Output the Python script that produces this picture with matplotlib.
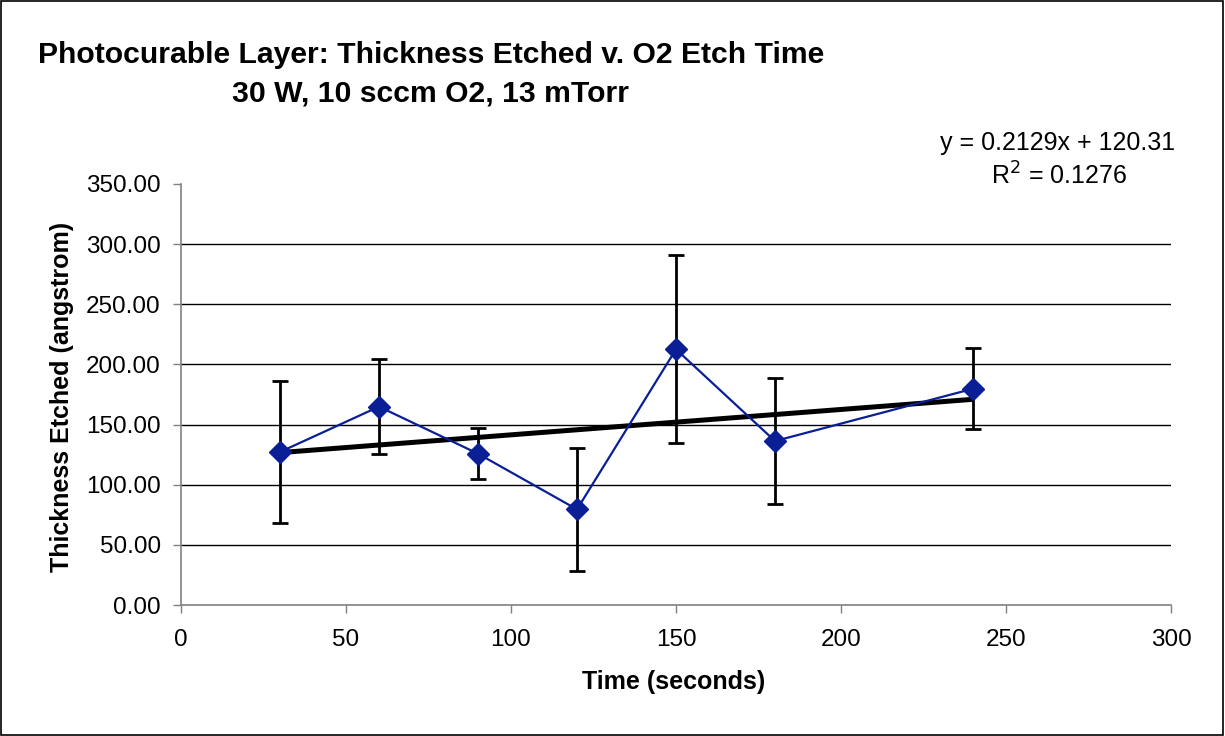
import numpy as np
import matplotlib
matplotlib.use("Agg")
import matplotlib.pyplot as plt
from matplotlib.patches import Rectangle

plt.rcParams['font.family'] = ['Liberation Sans', 'DejaVu Sans']

# Data
time_s = [30, 60, 90, 120, 150, 180, 240]
thickness = [127.2, 164.9, 125.8, 79.5, 212.6, 136.3, 179.8]
err = [59.0, 39.7, 21.3, 50.9, 78.2, 52.6, 33.7]
title_line1 = "Photocurable Layer: Thickness Etched v. O2 Etch Time"
title_line2 = "30 W, 10 sccm O2, 13 mTorr"
eq_text = "y = 0.2129x + 120.31"
r2_text = "R$^2$ = 0.1276"
yticks = [0, 50, 100, 150, 200, 250, 300, 350]
xticks = [0, 50, 100, 150, 200, 250, 300]

W, H = 1225, 736
fig = plt.figure(figsize=(W/100, H/100), dpi=100)
ax = fig.add_axes([181/W, 1-605/H, (1171-181)/W, (605-184)/H])

for y in yticks[1:-1]:
    ax.axhline(y, color='black', lw=1.0, zorder=1)

ax.errorbar(time_s, thickness, yerr=err, fmt='none', ecolor='black',
            elinewidth=2.0, capsize=5.5, capthick=2.0, zorder=2)

coef = np.polyfit(time_s, thickness, 1)
xs = np.array([min(time_s), max(time_s)])
ax.plot(xs, np.polyval(coef, xs), color='black', lw=3.6, zorder=3,
        solid_capstyle='butt')

ax.plot(time_s, thickness, color='#0A1E96', lw=1.6, marker='D',
        markersize=11, markerfacecolor='#0A1E96', markeredgecolor='#0A1E96', zorder=4)

ax.set_xlim(0, 300)
ax.set_ylim(0, 350)
ax.set_xticks(xticks)
ax.set_yticks(yticks)
ax.set_yticklabels([f"{v:.2f}" for v in yticks])
ax.tick_params(axis='both', direction='out', length=5.5, width=1, color='#808080',
               labelsize=17.5)
ax.tick_params(axis='y', pad=9)
ax.tick_params(axis='x', pad=12)
for s in ['top', 'right']:
    ax.spines[s].set_visible(False)
for s in ['left', 'bottom']:
    ax.spines[s].set_color('#808080')
    ax.spines[s].set_linewidth(1.2)

fig.text(674/W, 1-682/H, "Time (seconds)", ha='center', va='center',
         fontsize=18, fontweight='bold')
fig.text(62/W, 1-397/H, "Thickness Etched (angstrom)", ha='center', va='center',
         rotation=90, fontsize=18, fontweight='bold')

fig.text(431/W, 1-63/H, title_line1, ha='center', va='baseline',
         fontsize=21.7, fontweight='bold')
fig.text(431/W, 1-102/H, title_line2, ha='center', va='baseline',
         fontsize=21.7, fontweight='bold')
fig.text(1058/W, 1-150/H, eq_text, ha='center', va='baseline', fontsize=18)
fig.text(1059/W, 1-185/H, r2_text, ha='center', va='baseline', fontsize=18)

fig.patches.append(Rectangle((0.0008, 0.001), 0.9975, 0.9975, transform=fig.transFigure,
                             fill=False, edgecolor='black', lw=1.2))

fig.savefig("out.png", dpi=100)
